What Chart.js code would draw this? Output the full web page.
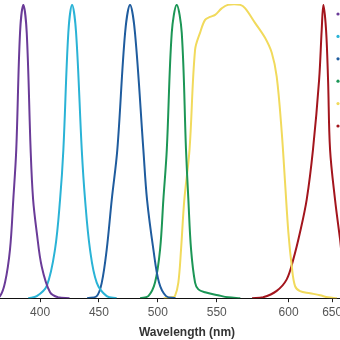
<!DOCTYPE html>
<html>
<head>
<meta charset="utf-8">
<script src="https://cdn.jsdelivr.net/npm/chart.js@4"></script>
<style>
  html, body { margin: 0; padding: 0; background: #fff; overflow: hidden; }
  #wrap { width: 380px; height: 340px; position: relative; }
</style>
</head>
<body>
<div id="wrap"><canvas id="spectra"></canvas></div>
<script>
// tick positions as they sit in the picture (the 600 mark is drawn a bit right of true)
const tickValues = [400, 450, 500, 550, 611, 648];
const tickLabels = ['400', '450', '500', '550', '600', '650'];

const seriesNames = ['Violet', 'Cyan', 'Blue', 'Green', 'Yellow', 'Red'];
const seriesColors = ['#6a3b98', '#2ab3d6', '#1f5c9e', '#1c9656', '#f1da5c', '#a3151d'];

const violetNm  = [360, 366, 370.3, 374.5, 377.3, 379.8, 383, 385.8, 388.7, 392, 394.1, 397.2, 401.4, 408.5, 415.3, 425];
const violetVal = [0, 0.007, 0.054, 0.166, 0.336, 0.505, 0.902, 0.997, 0.902, 0.505, 0.336, 0.224, 0.108, 0.020, 0.003, 0];

const cyanNm  = [390, 397.2, 405.7, 412.7, 417, 419.8, 424, 427.2, 430.6, 435.4, 438.2, 442.4, 448.1, 456.6, 465];
const cyanVal = [0, 0.007, 0.042, 0.166, 0.336, 0.505, 0.902, 0.997, 0.902, 0.505, 0.336, 0.166, 0.053, 0.007, 0];

const blueNm  = [440, 448.1, 452.4, 456.6, 460.9, 465.6, 472.2, 476.4, 480.6, 487.7, 490.8, 496.2, 501, 507, 515];
const blueVal = [0, 0.007, 0.053, 0.166, 0.336, 0.505, 0.902, 0.997, 0.902, 0.505, 0.336, 0.166, 0.053, 0.007, 0];

const greenNm  = [485, 491.9, 497.6, 501.9, 504.7, 507.6, 511.8, 516, 520.3, 523.9, 525.9, 528.2, 531.6, 534.4, 540.1, 551.1, 559.6, 570];
const greenVal = [0, 0.007, 0.053, 0.166, 0.336, 0.505, 0.902, 0.997, 0.902, 0.505, 0.336, 0.166, 0.053, 0.030, 0.020, 0.010, 0.003, 0];

const yellowNm  = [505, 512.1, 514.6, 517.4, 519.7, 522.5, 526.9, 531.6, 535.8, 540.1, 544.3, 548.6, 554.2, 559.6, 569.8, 574, 582.5, 591, 596.7, 600.9, 605.2, 608, 610.8, 613.7, 616.5, 620.7, 629.2, 637.7, 644.5, 652];
const yellowVal = [0, 0.003, 0.008, 0.053, 0.166, 0.336, 0.505, 0.844, 0.902, 0.946, 0.956, 0.963, 0.985, 0.997, 0.997, 0.986, 0.936, 0.885, 0.834, 0.753, 0.563, 0.393, 0.224, 0.108, 0.041, 0.024, 0.017, 0.010, 0.003, 0];

const redNm  = [580, 589.3, 600.9, 609.4, 615, 620.7, 626.4, 631.7, 636.9, 639.1, 640.5, 642.8, 644.5, 646.2, 650.4, 654.7, 659, 667, 675];
const redVal = [0, 0.003, 0.025, 0.064, 0.132, 0.224, 0.336, 0.505, 0.742, 0.912, 0.997, 0.912, 0.742, 0.505, 0.336, 0.200, 0.060, 0.007, 0];

const seriesNm  = [violetNm, cyanNm, blueNm, greenNm, yellowNm, redNm];
const seriesVal = [violetVal, cyanVal, blueVal, greenVal, yellowVal, redVal];

const datasets = seriesNames.map((name, i) => ({
    label: name,
    data: seriesNm[i].map((nm, j) => ({ x: nm, y: seriesVal[i][j] })),
    borderColor: seriesColors[i],
    borderWidth: 2,
    pointRadius: 0,
    fill: false,
    tension: 0.35
}));

// little legend markers sitting inside the plot at the top right
const markerLegend = {
    id: 'markerLegend',
    afterDraw(chart) {
        const c = chart.ctx;
        const x = chart.chartArea.left + 338;
        chart.data.datasets.forEach((ds, i) => {
            const y = 14 + i * 22.4;
            c.save();
            c.fillStyle = ds.borderColor;
            c.beginPath();
            c.arc(x, y, 1.6, 0, Math.PI * 2);
            c.fill();
            c.restore();
        });
    }
};

const ctx = document.getElementById('spectra').getContext('2d');
const spectraChart = new Chart(ctx, {
    type: 'line',
    data: { datasets: datasets },
    plugins: [markerLegend],
    options: {
        responsive: true,
        maintainAspectRatio: false,
        animation: false,
        layout: { padding: { left: 0, right: 6, top: 4, bottom: 0 } },
        plugins: {
            legend: { display: false },
            tooltip: { enabled: false }
        },
        scales: {
            x: {
                type: 'linear',
                min: 366,
                max: 683.5,
                afterBuildTicks: axis => {
                    axis.ticks = tickValues.map(v => ({ value: v }));
                },
                ticks: {
                    autoSkip: false,
                    maxRotation: 0,
                    padding: 3,
                    color: '#555',
                    font: { family: 'Liberation Sans', size: 12 },
                    callback: (value) => tickLabels[tickValues.indexOf(value)]
                },
                grid: { display: true, drawOnChartArea: false, drawTicks: true, tickLength: 4, color: '#222' },
                border: { display: true, color: '#111', width: 1 },
                title: {
                    display: true,
                    text: 'Wavelength (nm)',
                    color: '#333',
                    font: { family: 'Liberation Sans', size: 12, weight: 'bold' },
                    padding: { top: 3, bottom: 0 }
                }
            },
            y: {
                display: false,
                min: 0,
                max: 1
            }
        }
    }
});
</script>
</body>
</html>
